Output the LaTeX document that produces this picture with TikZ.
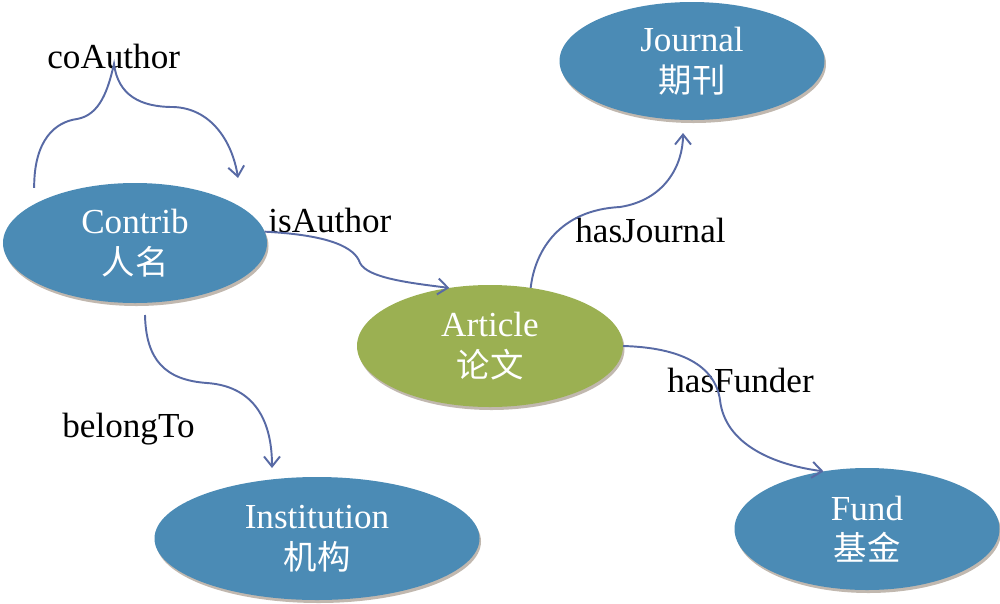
\documentclass[tikz,border=0pt]{standalone}
\usepackage{fontspec}
\setmainfont{Liberation Serif}
\newfontfamily\cjk[Scale=0.95]{Noto Sans CJK SC}
\usetikzlibrary{shapes.geometric, arrows.meta, shadows}
\definecolor{nodeblue}{RGB}{75,139,181}
\definecolor{nodegreen}{RGB}{155,176,82}
\definecolor{linkblue}{RGB}{88,106,165}
\tikzset{
concept/.style={ellipse, fill=nodeblue, text=white, align=center, inner sep=0pt, outer sep=0pt,
  font=\fontsize{20}{23}\selectfont,
  drop shadow={shadow xshift=0.03cm, shadow yshift=-0.06cm, fill=black!60!brown, opacity=0.35}},
link/.style={linkblue, line width=1.1pt, -{Straight Barb[length=2mm, width=3.2mm]}},
rel/.style={anchor=base west, inner sep=0pt, font=\fontsize{20}{23}\selectfont}
}
\begin{document}
\begin{tikzpicture}
\useasboundingbox (0,0) rectangle (20,-12.06);
\node[concept, minimum width=5.28cm, minimum height=2.40cm] (contrib) at (2.70,-4.86) {Contrib\\{\cjk 人名}};
\node[concept, fill=nodegreen, minimum width=5.32cm, minimum height=2.44cm] (article) at (9.80,-6.92) {Article\\{\cjk 论文}};
\node[concept, minimum width=5.30cm, minimum height=2.36cm] (journal) at (13.84,-1.22) {Journal\\{\cjk 期刊}};
\node[concept, minimum width=6.50cm, minimum height=2.46cm] (institution) at (6.34,-10.77) {Institution\\{\cjk 机构}};
\node[concept, minimum width=5.30cm, minimum height=2.44cm] (fund) at (17.34,-10.58) {Fund\\{\cjk 基金}};
\node[rel] (coauthor) at (0.94,-1.36) {coAuthor};
\node[rel] (isauthor) at (5.36,-4.64) {isAuthor};
\node[rel] (hasjournal) at (11.50,-4.84) {hasJournal};
\node[rel] (hasfunder) at (13.34,-7.84) {hasFunder};
\node[rel] (belongto) at (1.24,-8.74) {belongTo};
\draw[link] ([yshift=0.33cm]contrib.159) .. controls (0.68,-2.80) and (1.10,-2.44) .. (1.54,-2.38)
  .. controls (2.00,-2.30) and (2.16,-1.80) .. (2.28,-1.28)
  .. controls (2.36,-1.90) and (2.80,-2.14) .. (3.46,-2.14)
  .. controls (4.20,-2.16) and (4.64,-2.80) .. ([yshift=0.55cm]contrib.20);
\draw[link] (contrib.5) .. controls (6.60,-4.70) and (7.10,-4.95) .. (7.20,-5.26)
  .. controls (7.35,-5.56) and (8.20,-5.66) .. (article.125);
\draw[link] (article.55) .. controls (10.70,-5.00) and (11.20,-4.20) .. (12.40,-4.14)
  .. controls (13.30,-4.00) and (13.66,-3.30) .. ([shift={(-0.18,-0.26)}]journal.south);
\draw[link] (article.east) .. controls (13.60,-6.95) and (14.30,-7.30) .. (14.40,-8.00)
  .. controls (14.50,-8.90) and (15.50,-9.30) .. (fund.127);
\draw[link] ([shift={(0.20,-0.24)}]contrib.south) .. controls (2.92,-7.20) and (3.30,-7.60) .. (4.14,-7.66)
  .. controls (5.00,-7.72) and (5.44,-8.30) .. ([shift={(-0.90,0.18)}]institution.north);
\end{tikzpicture}
\end{document}
